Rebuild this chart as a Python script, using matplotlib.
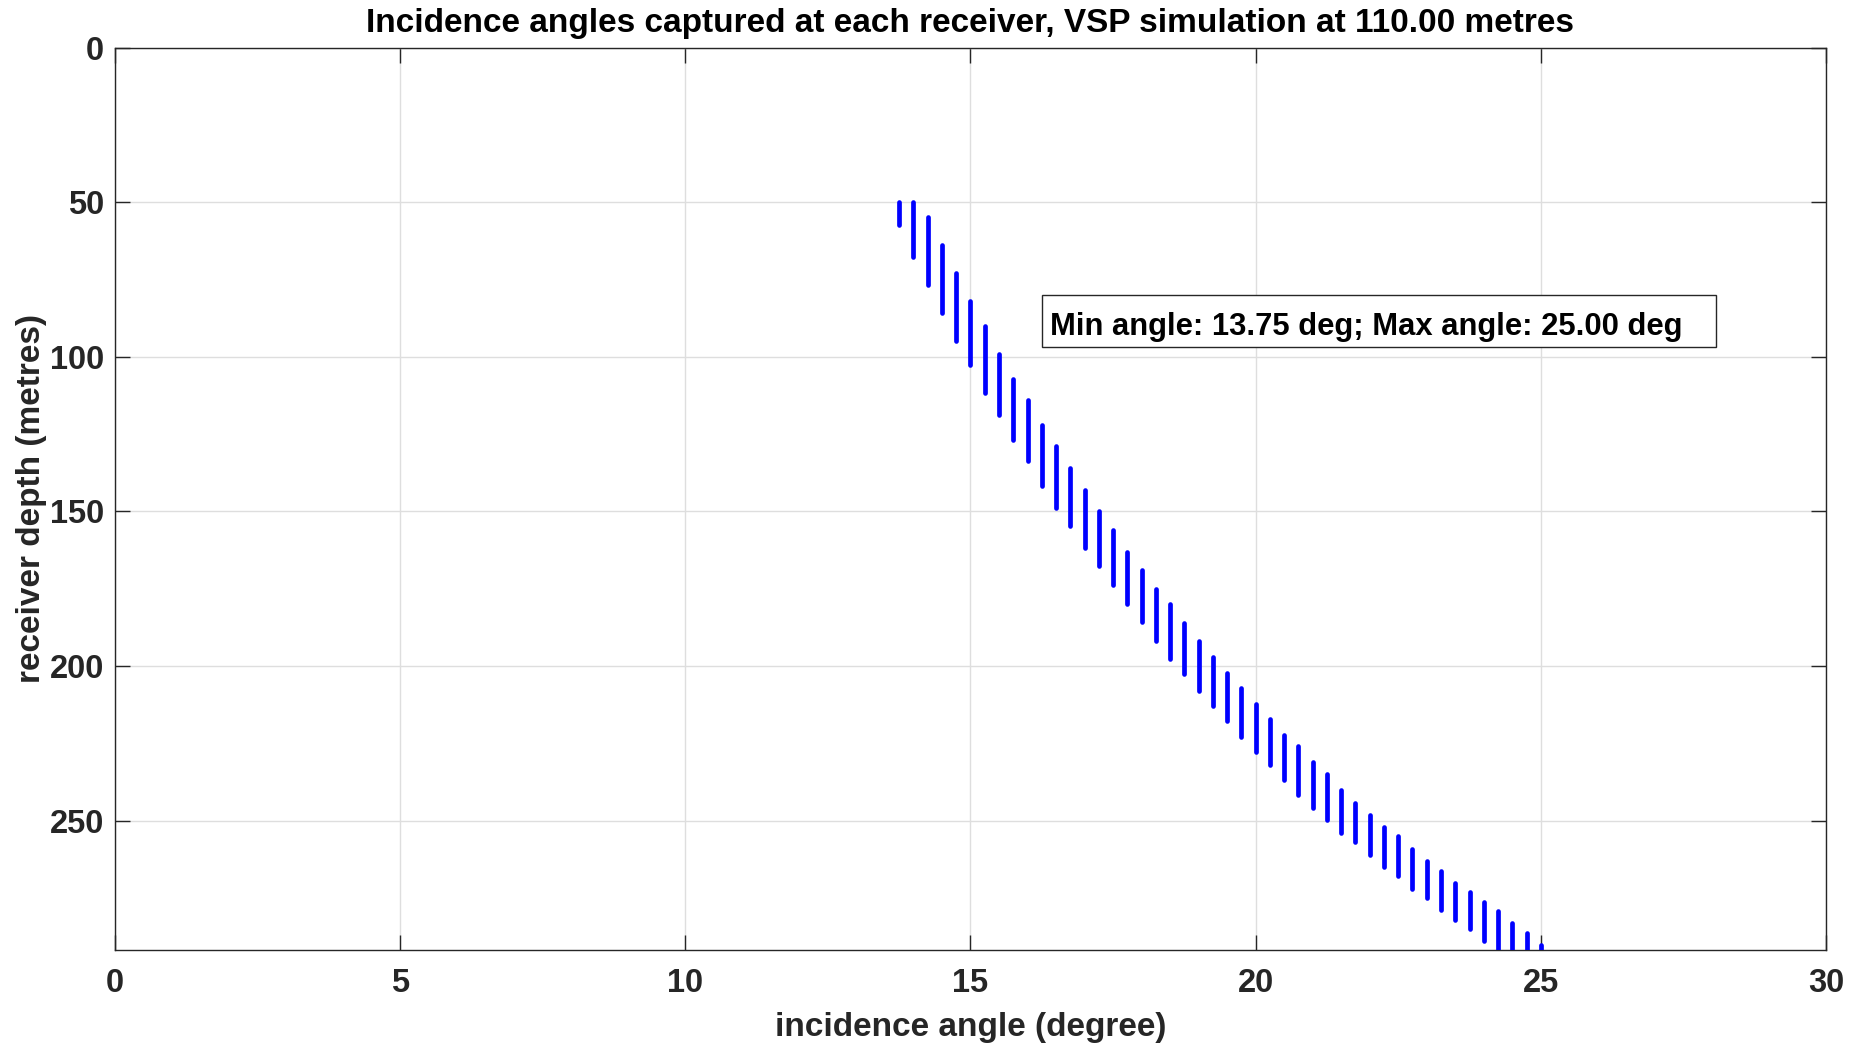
import matplotlib
matplotlib.use("Agg")
import matplotlib.pyplot as plt
from matplotlib.patches import Rectangle

# incidence angle bins (degrees) and the depth span of receivers in each bin
angles = [13.75, 14.00, 14.25, 14.50, 14.75, 15.00, 15.25, 15.50, 15.75, 16.00,
          16.25, 16.50, 16.75, 17.00, 17.25, 17.50, 17.75, 18.00, 18.25, 18.50,
          18.75, 19.00, 19.25, 19.50, 19.75, 20.00, 20.25, 20.50, 20.75, 21.00,
          21.25, 21.50, 21.75, 22.00, 22.25, 22.50, 22.75, 23.00, 23.25, 23.50,
          23.75, 24.00, 24.25, 24.50, 24.75, 25.00]
depth_top = [50.0, 50.0, 54.9, 64.0, 73.0, 82.1, 90.1, 99.1, 107.1, 114.1,
             122.2, 129.0, 136.0, 143.1, 150.0, 156.0, 163.2, 169.1, 175.0, 180.1,
             186.0, 192.0, 197.1, 202.3, 207.1, 212.2, 217.1, 222.3, 226.0, 231.2,
             235.1, 240.2, 244.3, 248.2, 252.2, 255.1, 259.2, 263.2, 266.3, 270.2,
             273.2, 276.2, 279.3, 283.1, 286.2, 290.3]
depth_bot = [57.5, 67.7, 76.7, 85.8, 94.8, 102.6, 111.6, 118.8, 126.8, 133.8,
             141.7, 148.8, 154.8, 161.8, 167.8, 173.9, 179.9, 185.8, 191.8, 197.8,
             202.6, 208.1, 213.0, 217.9, 223.0, 227.8, 232.0, 236.8, 241.8, 246.0,
             249.9, 253.9, 256.9, 261.1, 265.1, 268.0, 272.1, 275.1, 278.8, 282.1,
             285.1, 289.1, 293.0, 296.0, 299.0, 302.0]

max_depth = 291.7
min_angle = min(angles)
max_angle = max(angles)

plt.rcParams["font.family"] = ["Liberation Sans", "DejaVu Sans"]
plt.rcParams["font.weight"] = "bold"

fig = plt.figure(figsize=(18.54, 10.44), dpi=100)
ax = fig.add_axes([0.0620, 0.0905, 0.9229, 0.8640])

segs = ax.vlines(angles, depth_top, depth_bot, colors="#0000ff", linewidth=3.4, zorder=3)
segs.set_capstyle("round")

ax.set_xlim(0, 30)
ax.set_ylim(max_depth, 0)
ax.set_xticks(range(0, 31, 5))
ax.set_yticks(range(0, 251, 50))

ax.grid(True, color="#dedede", linewidth=1.0)
ax.set_axisbelow(True)
for sp in ax.spines.values():
    sp.set_color("#262626")
    sp.set_linewidth(1.0)
ax.tick_params(direction="in", length=11, width=1.0, color="#262626",
               top=True, right=True, labelsize=23.5, labelcolor="#262626")
ax.tick_params(axis="x", pad=13)
ax.tick_params(axis="y", pad=8)

ax.set_xlabel("incidence angle (degree)", fontsize=24, fontweight="bold",
              color="#262626", labelpad=10)
ax.set_ylabel("receiver depth (metres)", fontsize=24, fontweight="bold",
              color="#262626", labelpad=1.5)
ax.set_title("Incidence angles captured at each receiver, VSP simulation at 110.00 metres",
             fontsize=24, fontweight="bold", pad=11)

# annotation box with the angle range
ax.add_patch(Rectangle((16.25, 80.0), 11.82, 16.8, facecolor="white",
                       edgecolor="#262626", linewidth=1.0, zorder=4))
ax.text(16.39, 92.9, f"Min angle: {min_angle:.2f} deg; Max angle: {max_angle:.2f} deg",
        fontsize=22.3, fontweight="bold", va="baseline", ha="left", zorder=5)

fig.savefig("out.png", dpi=100)
